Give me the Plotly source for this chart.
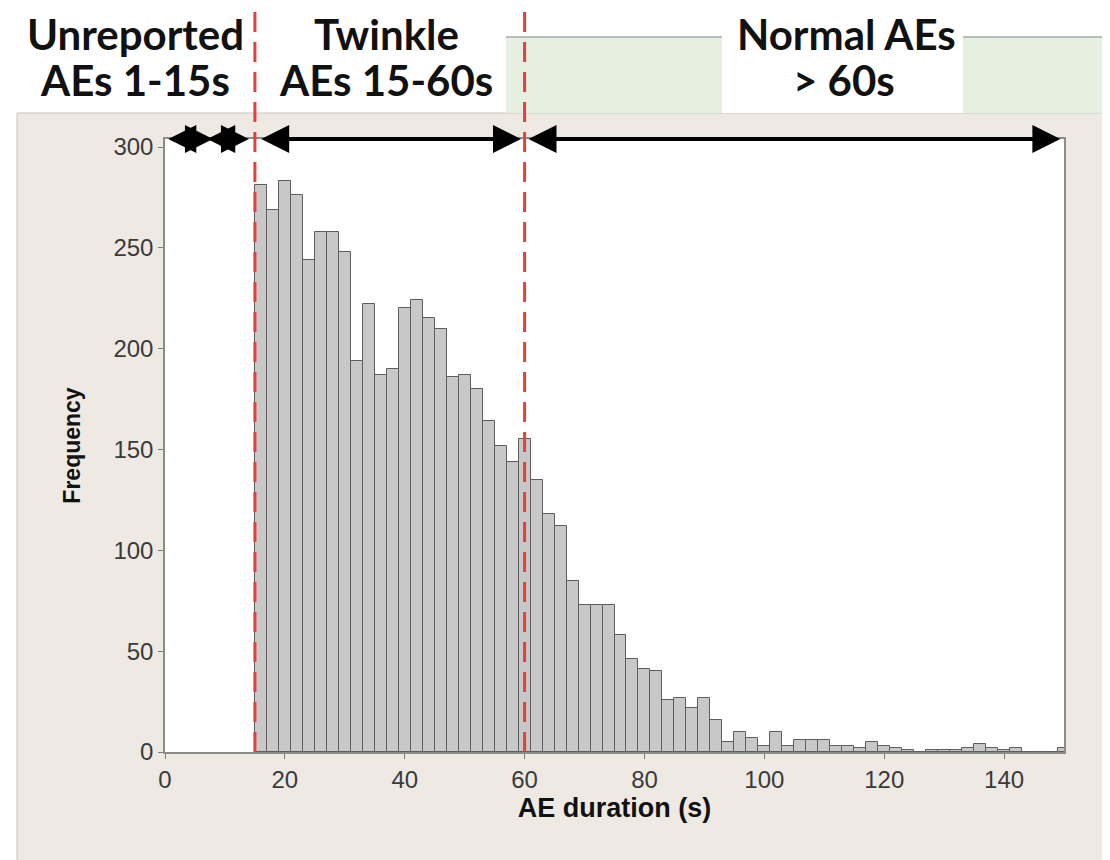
import plotly.graph_objects as go

# ---- data: histogram of AE durations (2 s bins, centers) ----
bin_centers = [16, 18, 20, 22, 24, 26, 28, 30, 32, 34, 36, 38, 40, 42, 44, 46, 48, 50,
               52, 54, 56, 58, 60, 62, 64, 66, 68, 70, 72, 74, 76, 78, 80, 82, 84, 86,
               88, 90, 92, 94, 96, 98, 100, 102, 104, 106, 108, 110, 112, 114, 116, 118,
               120, 122, 124, 126, 128, 130, 132, 134, 136, 138, 140, 142, 144, 146, 148, 150]
frequency = [281, 269, 283, 276, 244, 258, 258, 248, 194, 222, 187, 190, 220, 224, 215, 210, 186, 187,
             180, 164, 152, 144, 155, 135, 118, 112, 85, 73, 73, 73, 58, 46, 41, 40, 26, 27,
             22, 27, 16, 5, 10, 7, 3, 10, 3, 6, 6, 6, 3, 3, 2, 5,
             3, 2, 1, 0, 1, 1, 1, 2, 4, 2, 1, 2, 0, 0, 0, 2]
bin_width = 2

thresholds = [15, 60]
x_ticks = [0, 20, 40, 60, 80, 100, 120, 140]
y_ticks = [0, 50, 100, 150, 200, 250, 300]
x_range = [0, 150]
y_range = [0, 304]

header_lines = [
    ("Unreported", 135, 34), ("AEs 1-15s", 135, 80),
    ("Twinkle", 386, 34), ("AEs 15-60s", 386, 80),
    ("Normal AEs", 846, 34), ("> 60s", 844, 80),
]
# double-headed arrows along the top of the plot, in data x units
arrow_spans = [(0.3, 8.0), (6.8, 14.0), (15.8, 59.4), (60.4, 149.4)]

# ---- layout geometry (pixels; page body has an 8 px margin) ----
OFF = 8
W, H = 1110 - OFF, 860 - OFF
L, T = 165 - OFF, 139 - OFF
R = W - (1064 - OFF)
B = H - (752 - OFF)
PW, PH = W - L - R, H - T - B


def fx(px):
    return (px - OFF - L) / PW


def fy(py):
    return (H - B - (py - OFF)) / PH


fig = go.Figure()
fig.add_trace(go.Bar(
    x=bin_centers, y=frequency, width=bin_width,
    marker=dict(color="#C8C8C8", line=dict(color="#5E5E5E", width=1)),
    showlegend=False, hoverinfo="x+y",
))

shapes = []
# beige panel
shapes.append(dict(type="rect", xref="paper", yref="paper", layer="below",
                   x0=fx(17), x1=fx(1120), y0=fy(870), y1=fy(113),
                   fillcolor="#EEEAE3", line=dict(color="#C9C5BD", width=1)))
# white plotting area
shapes.append(dict(type="rect", xref="paper", yref="paper", layer="below",
                   x0=0, x1=1, y0=0, y1=1,
                   fillcolor="#FFFFFF", line=dict(width=0)))
# green band for 'Normal AEs'
shapes.append(dict(type="rect", xref="paper", yref="paper", layer="below",
                   x0=fx(506), x1=fx(1120), y0=fy(113), y1=fy(37),
                   fillcolor="#E6F0E0", line=dict(width=0)))
# white box behind 'Normal AEs'
shapes.append(dict(type="rect", xref="paper", yref="paper", layer="below",
                   x0=fx(722), x1=fx(963), y0=fy(113), y1=fy(37),
                   fillcolor="#FFFFFF", line=dict(width=0)))
# gray line on top of the green band
for a, b in [(506, 722), (963, 1120)]:
    shapes.append(dict(type="line", xref="paper", yref="paper", layer="below",
                       x0=fx(a), x1=fx(b), y0=fy(37), y1=fy(37),
                       line=dict(color="#A9A9A9", width=1.5)))
# red dashed threshold lines
for t in thresholds:
    shapes.append(dict(type="line", xref="x", yref="paper", layer="above",
                       x0=t, x1=t, y0=0, y1=fy(OFF),
                       line=dict(color="#E2403A", width=3, dash="20px,10px")))

annotations = []
for text, cx, cy in header_lines:
    annotations.append(dict(text="<b>" + text + "</b>", xref="paper", yref="paper",
                            x=fx(cx), y=fy(cy),
                            xanchor="center", yanchor="middle", showarrow=False,
                            font=dict(family="Lato", size=42, color="#111111")))
for x0, x1 in arrow_spans:
    annotations.append(dict(text="", xref="x", yref="paper", x=x1, y=1.0,
                            axref="x", ax=x0, ayref="pixel", ay=0,
                            showarrow=True, arrowside="end+start", arrowhead=2,
                            arrowsize=1.4, arrowwidth=4, arrowcolor="#000000",
                            startarrowhead=2, startarrowsize=1.4))

fig.update_layout(
    width=W, height=H,
    margin=dict(l=L, r=R, t=T, b=B),
    paper_bgcolor="#FFFFFF", plot_bgcolor="#FFFFFF",
    shapes=shapes, annotations=annotations,
    bargap=0,
    xaxis=dict(range=x_range, tickvals=x_ticks, ticks="outside", ticklen=5,
               tickcolor="#7A7A7A", showline=True, linecolor="#8C8C8C", linewidth=1.5,
               mirror=True, showgrid=False, zeroline=False,
               tickfont=dict(family="Liberation Sans", size=24, color="#3A3A3A"),
               title=dict(text="<b>AE duration (s)</b>", standoff=2,
                          font=dict(family="Liberation Sans", size=27, color="#111111"))),
    yaxis=dict(range=y_range, tickvals=y_ticks, ticks="outside", ticklen=5,
               tickcolor="#7A7A7A", showline=True, linecolor="#8C8C8C", linewidth=1.5,
               mirror=True, showgrid=False, zeroline=False,
               tickfont=dict(family="Liberation Sans", size=24, color="#3A3A3A"),
               title=dict(text="<b>Frequency</b>", standoff=26,
                          font=dict(family="Liberation Sans", size=23, color="#111111"))),
)

fig.write_html("out.html")
